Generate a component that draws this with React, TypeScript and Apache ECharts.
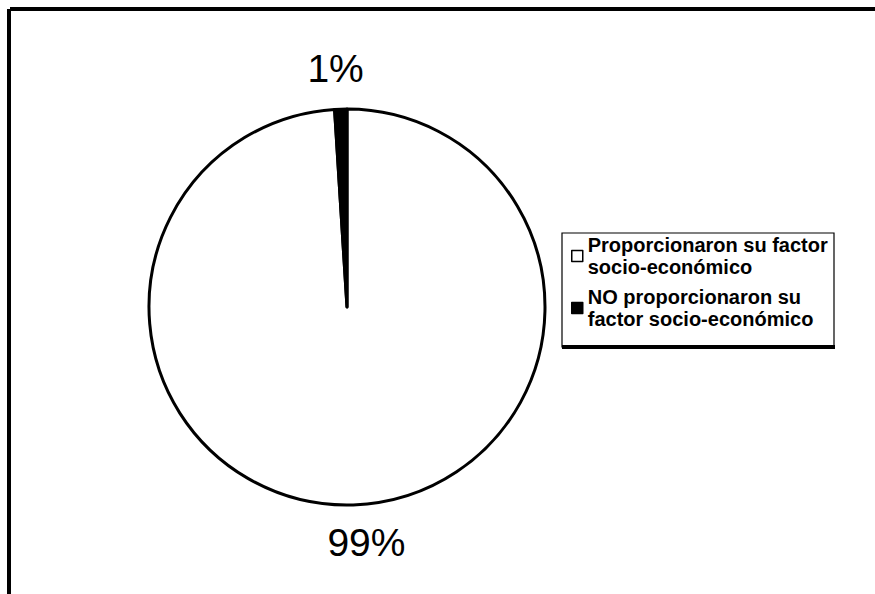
import React, { useEffect, useRef } from "react";
import * as echarts from "echarts";

// Respuestas sobre el factor socio-económico (porcentajes)
const categories: string[] = [
  "Proporcionaron su factor\nsocio-económico",
  "NO proporcionaron su\nfactor socio-económico",
];
const percentages: number[] = [99, 1];
const sliceColors: string[] = ["#ffffff", "#000000"];

const FONT = "Arial, 'Liberation Sans', sans-serif";

export default function App() {
  const ref = useRef<HTMLDivElement>(null);

  useEffect(() => {
    if (!ref.current) return;
    const chart = echarts.init(ref.current, null, { renderer: "svg" });

    const pieData = categories.map((name, i) => ({
      name,
      value: percentages[i],
      itemStyle: { color: sliceColors[i] },
    }));

    chart.setOption({
      animation: false,
      backgroundColor: "#ffffff",
      legend: {
        orient: "vertical",
        left: 571,
        top: 223,
        padding: 0,
        itemGap: -14,
        itemWidth: 11,
        itemHeight: 11,
        icon: "rect",
        selectedMode: false,
        data: categories,
        itemStyle: { borderColor: "#000", borderWidth: 1.5 },
        textStyle: {
          fontFamily: FONT,
          fontWeight: "bold",
          fontSize: 20,
          lineHeight: 22,
          color: "#000",
          padding: [22, 0, 0, 0],
        },
      },
      graphic: [
        // marco superior e izquierdo
        { type: "rect", shape: { x: 10, y: 7, width: 865, height: 4 }, style: { fill: "#000" } },
        { type: "rect", shape: { x: 7, y: 9, width: 4, height: 585 }, style: { fill: "#000" } },
        // recuadro de la leyenda
        {
          type: "rect",
          shape: { x: 562, y: 233, width: 272, height: 114 },
          style: { fill: "none", stroke: "#000", lineWidth: 1.2 },
          z: 10,
        },
        { type: "rect", shape: { x: 562, y: 345, width: 273, height: 4 }, style: { fill: "#000" }, z: 10 },
      ],
      series: [
        {
          type: "pie",
          center: [347, 307],
          radius: 198,
          startAngle: 90,
          clockwise: true,
          avoidLabelOverlap: false,
          itemStyle: { borderColor: "#000", borderWidth: 3 },
          label: {
            show: true,
            position: "outside",
            formatter: "{c}%",
            fontFamily: FONT,
            fontSize: 39,
            color: "#000",
            distanceToLabelLine: 0,
          },
          labelLine: { show: false, length: 38, length2: 0 },
          labelLayout: (params: any) => ({
            align: "center",
            dx: params.dataIndex === 0 ? 12 : -4,
            dy: params.dataIndex === 0 ? 0 : -3,
          }),
          emphasis: { disabled: true },
          data: pieData,
        },
      ],
    });

    return () => chart.dispose();
  }, []);

  return (
    <div
      ref={ref}
      style={{ position: "fixed", left: 0, top: 0, width: 875, height: 594 }}
    />
  );
}
